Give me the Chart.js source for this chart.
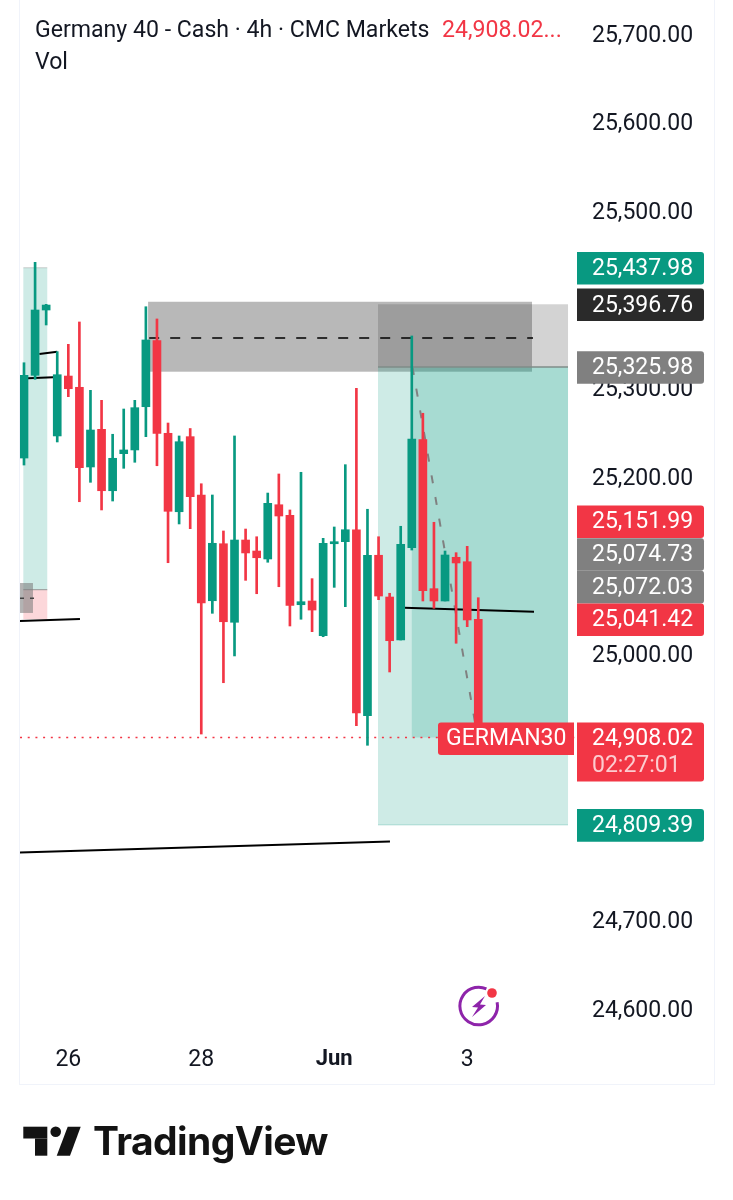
<!DOCTYPE html>
<html>
<head>
<meta charset="utf-8">
<title>Germany 40 - Cash 4h</title>
<script src="https://cdn.jsdelivr.net/npm/chart.js@4"></script>
<style>
  html, body { margin: 0; padding: 0; background: #fff; }
  #wrap { position: relative; width: 733px; height: 1200px; overflow: hidden; font-family: Roboto, sans-serif; }
  #chart { position: absolute; left: 0; top: 0; }
  #frame { position: absolute; left: 19px; top: -2px; width: 694px; height: 1085px; border: 1px solid #f0f3fa; }
  .head { position: absolute; font-size: 23.1px; line-height: 28px; color: #131722; white-space: nowrap; }
  #logo { position: absolute; left: 93px; top: 1118px; font-family: Inter, sans-serif; font-weight: 700; font-size: 39px; line-height: 46px; color: #131313; letter-spacing: -0.6px; }
</style>
</head>
<body>
<div id="wrap">
  <canvas id="chart" width="733" height="1200"></canvas>
  <div id="frame"></div>
  <div class="head" style="left:35px;top:16px">Germany 40 - Cash · 4h · CMC Markets</div>
  <div class="head" style="left:442px;top:16px;color:#f23645">24,908.02...</div>
  <div class="head" style="left:35px;top:48px">Vol</div>
  <div id="logo">TradingView</div>
</div>
<script>
// 4h candles
const opens = [25223.3,25316.6,25390.3,25248.2,25315.8,25303.1,25213.2,25255.7,25186.4,25228.2,25232.4,25281.2,25355.7,25251.2,25162.7,25247.4,25181.6,25062.3,25126.6,25038,25130.8,25118.4,25109.4,25170.6,25158.7,25057.8,25062,25022.8,25126.6,25128.9,25142.4,24932.6,25113.6,25066.5,25018,25122.1,25244,25075.9,25062,25111.3,25106.3,25041.42];
const highs = [25330.8,25444.1,25396.7,25343.3,25351.6,25376.8,25299.7,25288.4,25250.1,25278.6,25288.4,25394,25380.2,25262.8,25248.2,25256.6,25194.3,25181.6,25141,25248.2,25143.2,25134.5,25183.8,25205.3,25164.7,25207.2,25087.2,25132.7,25145.5,25215.8,25302,25165.5,25134.5,25070.7,25146.3,25361,25273.8,25150.8,25118.4,25116.5,25123.7,25065.7];
const lows = [25215.4,25312.1,25373.4,25241.4,25292.5,25174,25195.9,25164.7,25174.8,25211.7,25218.5,25247.4,25214.6,25105.2,25148.9,25143.6,24911.9,25048.1,24969.8,25000,25085.3,25070.2,25105.7,25078.1,25033.8,25041.4,25027.4,25021.7,25077.4,25055.6,24921.3,24899.2,25063.5,24981.9,25018,25119.5,25062,25053.8,25062,25014.3,25033,24908.02];
const closes = [25316.6,25390.3,25395.9,25317.3,25301.5,25212.4,25254.9,25186.4,25223,25232.4,25280.1,25356.5,25251.2,25163.2,25241.7,25179.7,25059.7,25127.1,25038.6,25130.8,25116.2,25110.8,25172.2,25157.9,25057.1,25061.2,25051.8,25127.1,25128.9,25142.4,24935.6,25113.6,25067.6,25017.2,25126,25244.8,25073.6,25062,25113.9,25104.9,25040.6,24908.02];

// round prices sitting under a price tag are left out
const priceTicks = [25700,25600,25500,25300,25200,25000,24700,24600];
const timeTicks = [4,16,28,40];
const timeLabels = ['26','28','Jun','3'];

const lastPrice = 24908.02;
const countdown = '02:27:01';
const tagPrices = [25437.98,25396.76,25325.98,25151.99,25074.73,25072.03,25041.42,24809.39];

// drawing tools, in bar index / price units
const zoneStart = [-0.06,-0.06,-0.36,11.2,31.95,31.95,35];
const zoneEnd = [2.1,2.1,0.81,45.85,49.1,49.1,49.1];
const zoneHigh = [25437.98,25074.73,25082.3,25399.6,25396.76,25325.98,25325.98];
const zoneLow = [25074.73,25041.42,25048.5,25320.7,25325.98,24809.39,24908.02];

const trendA = [{x:0.36,y:25313.2},{x:2.64,y:25314.4}];
const trendB = [{x:1.38,y:25340.7},{x:3,y:25343.3}];
const trendC = [{x:-0.36,y:25039.4},{x:5.05,y:25041.7}];
const trendD = [{x:-0.36,y:24778.2},{x:33.03,y:24790.7}];
const trendE = [{x:34.3,y:25054.4},{x:46.03,y:25049.9}];
const midLine = [{x:11.3,y:25358.7},{x:45.94,y:25358.7}];
const smallMid = [{x:-0.36,y:25065},{x:1,y:25065}];
const entryLine = [{x:31.95,y:25325.98},{x:49.1,y:25325.98}];
const targetLine = [{x:31.95,y:24809.39},{x:49.1,y:24809.39}];
const leftTop = [{x:-0.06,y:25437.98},{x:2.1,y:25437.98}];
const leftEntry = [{x:-0.06,y:25074.73},{x:2.1,y:25074.73}];
const pathLine = [{x:35.06,y:25325.98},{x:40.7,y:24925.5}];
const lastLine = [{x:-0.36,y:lastPrice},{x:49.7,y:lastPrice}];

const GREEN = '#089981';
const RED = '#f23645';
const GREY = '#808080';
const zoneColors = ['rgba(8,153,129,0.2)','rgba(242,54,69,0.2)','rgba(128,128,128,0.6)','rgba(70,70,70,0.384)','rgba(70,70,70,0.238)','rgba(8,153,129,0.2)','rgba(8,153,129,0.2)'];
const tagColors = [GREEN,'#2a2a2a',GREY,RED,GREY,GREY,RED,GREEN];

const candleColors = opens.map((o, i) => closes[i] >= o ? GREEN : RED);
const fmt = v => v.toLocaleString('en-US', {minimumFractionDigits: 2, maximumFractionDigits: 2});

function lineSet(data, color, width, dash) {
  return {type: 'line', data, borderColor: color, borderWidth: width, borderDash: dash || [], pointRadius: 0, order: 5, fill: false, tension: 0};
}

function roundBox(ctx, x, y, w, h, color, radii) {
  ctx.fillStyle = color;
  ctx.beginPath();
  ctx.roundRect(x, y, w, h, radii);
  ctx.fill();
}

// filled zones go under the candles
const zonesPlugin = {
  id: 'zones',
  beforeDatasetsDraw(chart) {
    const {ctx, scales: {x, y}} = chart;
    ctx.save();
    zoneStart.forEach((s, i) => {
      const left = x.getPixelForValue(s);
      const top = y.getPixelForValue(zoneHigh[i]);
      ctx.fillStyle = zoneColors[i];
      ctx.fillRect(left, top, x.getPixelForValue(zoneEnd[i]) - left, y.getPixelForValue(zoneLow[i]) - top);
    });
    ctx.restore();
  }
};

// price tags on the right axis, stacked upward when they collide
const tagsPlugin = {
  id: 'tags',
  afterDraw(chart) {
    const {ctx, scales: {y}} = chart;
    const boxH = 32.6;
    const axisTag = [0, 3, 3, 0];
    const rows = tagPrices.map((p, i) => ({p, color: tagColors[i], cy: y.getPixelForValue(p) + 0.5}));
    for (let i = rows.length - 2; i >= 0; i--) {
      if (rows[i].cy + boxH > rows[i + 1].cy) rows[i].cy = rows[i + 1].cy - boxH;
    }
    ctx.save();
    ctx.font = '23px Roboto';
    ctx.textBaseline = 'middle';
    rows.forEach(r => {
      roundBox(ctx, 577, r.cy - boxH / 2, 127, boxH, r.color, axisTag);
      ctx.fillStyle = '#fff';
      ctx.fillText(fmt(r.p), 592, r.cy + 1);
    });

    // last price with countdown and symbol tag
    const lastY = y.getPixelForValue(lastPrice) + 0.5;
    roundBox(ctx, 577, lastY - 15.5, 127, 59, RED, axisTag);
    ctx.fillStyle = '#fff';
    ctx.fillText(fmt(lastPrice), 592, lastY + 1);
    ctx.fillStyle = 'rgba(255,255,255,0.75)';
    ctx.fillText(countdown, 592, lastY + 28);
    roundBox(ctx, 438, lastY - 15.5, 136, 32.6, RED, [3, 0, 0, 3]);
    ctx.fillStyle = '#fff';
    ctx.fillText('GERMAN30', 446, lastY + 1);

    // news badge
    ctx.strokeStyle = '#8e24aa';
    ctx.lineWidth = 3;
    ctx.beginPath();
    ctx.arc(478.7, 1006, 18.8, -0.2, -1.15 + Math.PI * 2);
    ctx.stroke();
    ctx.fillStyle = '#8e24aa';
    ctx.beginPath();
    [[485,996],[472,1007],[478,1007.5],[472,1017],[486,1005],[480,1004.5]].forEach((p, i) => i ? ctx.lineTo(p[0], p[1]) : ctx.moveTo(p[0], p[1]));
    ctx.closePath();
    ctx.fill();
    ctx.fillStyle = RED;
    ctx.beginPath();
    ctx.arc(492, 993, 4.8, 0, Math.PI * 2);
    ctx.fill();

    // logo mark
    ctx.fillStyle = '#131313';
    ctx.fillRect(23.3, 1126.7, 24, 11.8);
    ctx.fillRect(35, 1138.5, 12.3, 17.2);
    ctx.beginPath();
    ctx.arc(55.7, 1131.8, 5.3, 0, Math.PI * 2);
    ctx.fill();
    ctx.beginPath();
    ctx.moveTo(67.7, 1126.7);
    ctx.lineTo(80.7, 1126.7);
    ctx.lineTo(70, 1155.7);
    ctx.lineTo(56.7, 1155.7);
    ctx.closePath();
    ctx.fill();
    ctx.restore();
  }
};

const wicks = highs.map((h, i) => ({x: i, y: [lows[i], h]}));
const bodies = opens.map((o, i) => ({x: i, y: [o, closes[i]]}));

new Chart(document.getElementById('chart'), {
  data: {
    datasets: [
      {type: 'bar', data: wicks, backgroundColor: candleColors, barThickness: 2, grouped: false, order: 2},
      {type: 'bar', data: bodies, backgroundColor: candleColors, barThickness: 8, grouped: false, order: 1},
      lineSet(trendA, '#000', 2),
      lineSet(trendB, '#000', 2),
      lineSet(trendC, '#000', 2),
      lineSet(trendD, '#000', 2),
      lineSet(trendE, '#000', 2),
      lineSet(midLine, '#000', 1.5, [10, 11]),
      lineSet(smallMid, '#444', 1.5, [4, 6]),
      lineSet(entryLine, '#7f8c88', 1.5),
      lineSet(targetLine, 'rgba(8,153,129,0.25)', 1),
      lineSet(leftTop, 'rgba(128,128,128,0.35)', 1),
      lineSet(leftEntry, 'rgba(128,128,128,0.8)', 1),
      lineSet(pathLine, GREY, 2, [8, 14]),
      lineSet(lastLine, RED, 1.5, [2, 5.7])
    ]
  },
  options: {
    responsive: false,
    animation: false,
    layout: {padding: {left: 20, top: 0, right: 0, bottom: 0}},
    plugins: {legend: {display: false}, tooltip: {enabled: false}},
    scales: {
      x: {
        type: 'linear',
        offset: false,
        min: -0.361,
        max: 49.73,
        grid: {display: false, drawTicks: false},
        border: {display: false},
        afterBuildTicks(scale) { scale.ticks = timeTicks.map(v => ({value: v})); },
        afterFit(scale) { scale.height = 160; scale.paddingLeft = 0; scale.paddingRight = 0; },
        ticks: {
          autoSkip: false,
          maxRotation: 0,
          padding: 6,
          color: '#131722',
          font: ctx => ctx.tick && ctx.tick.value === 28 ? {family: 'Roboto', size: 22, weight: 'bold'} : {family: 'Roboto', size: 23},
          callback: v => timeLabels[timeTicks.indexOf(v)]
        }
      },
      y: {
        position: 'right',
        min: 24566.71,
        max: 25740.05,
        grid: {display: false, drawTicks: false},
        border: {display: false},
        afterBuildTicks(scale) { scale.ticks = priceTicks.map(v => ({value: v})); },
        afterFit(scale) { scale.width = 158; scale.paddingTop = 0; scale.paddingBottom = 0; },
        ticks: {
          autoSkip: false,
          padding: 17,
          labelOffset: 0.4,
          color: '#131722',
          font: {family: 'Roboto', size: 23},
          callback: v => fmt(v)
        }
      }
    }
  },
  plugins: [zonesPlugin, tagsPlugin]
});
</script>
</body>
</html>
